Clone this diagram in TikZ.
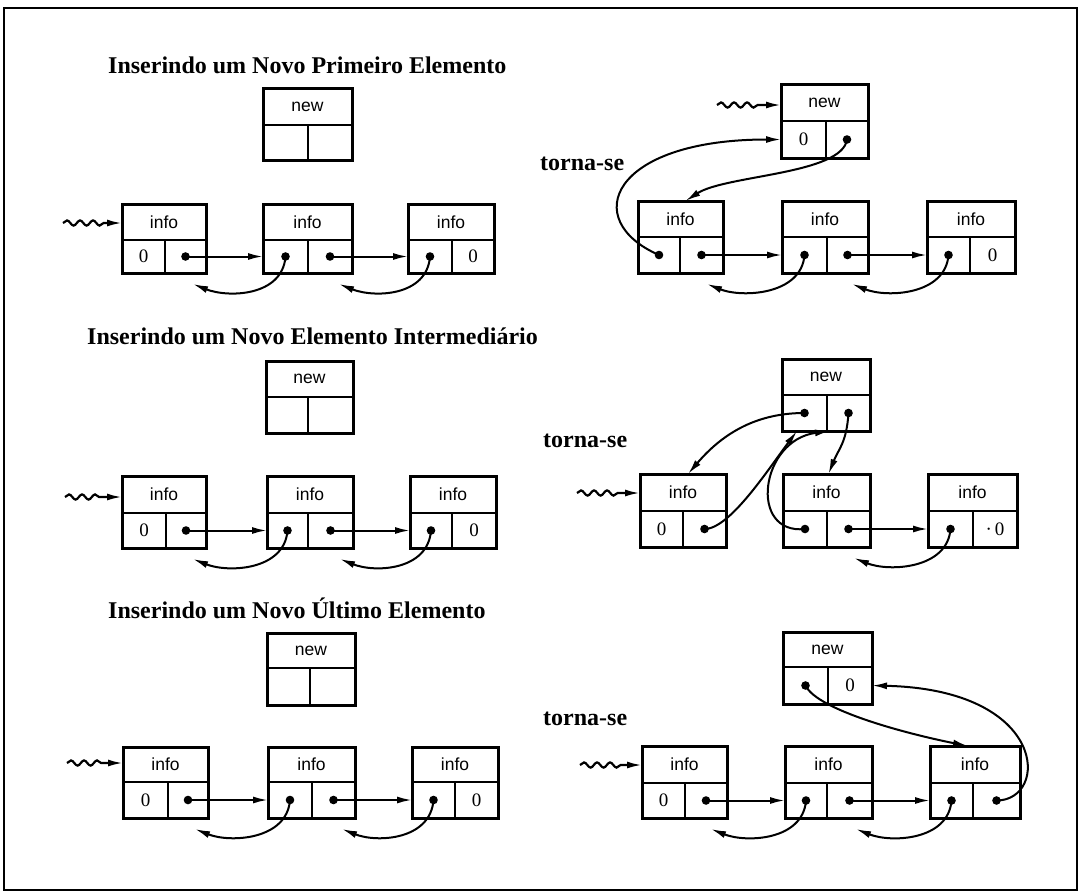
\documentclass[tikz,border=0pt]{standalone}
\usepackage{fontspec}
\setmainfont{Liberation Serif}
\newfontfamily\lsans{Liberation Sans}
\usetikzlibrary{arrows.meta,decorations.pathmorphing,calc}

\tikzset{
  cellbox/.style={draw, line width=3pt, inner sep=0pt, outer sep=0pt},
  divline/.style={line width=2.4pt},
  lbl/.style={font=\lsans\fontsize{17.5}{17.5}\selectfont, inner sep=0pt},
  zero/.style={font=\fontsize{19}{19}\selectfont, inner sep=0pt},
  ttl/.style={font=\bfseries\fontsize{24}{24}\selectfont, inner sep=0pt, anchor=base west},
  arr/.style={line width=2pt, -{Latex[length=15pt,width=7pt]}},
  wavy/.style={line width=2.2pt, decorate, decoration={snake, amplitude=2.6pt, segment length=13pt, post length=17pt}, -{Latex[length=15pt,width=7pt]}},
  ptr/.style={fill=black},
}

% name, x1, y1, x2, y2, ydiv, xdiv, label
\newcommand\llcell[8]{%
  \node[cellbox, minimum width={#4-#2}, minimum height={#5-#3}] (#1) at ({(#2+#4)/2},{(#3+#5)/2}) {};
  \draw[divline] (#2,#6) -- (#4,#6) (#7,#6) -- (#7,#5);
  \node[lbl] (#1-t) at ({(#2+#4)/2},{(#3+#6)/2}) {#8};
  \coordinate (#1-l) at ({(#2+#7)/2},{(#6+#5)/2});
  \coordinate (#1-r) at ({(#7+#4)/2},{(#6+#5)/2});
}
\newcommand\pdot[1]{\fill[ptr] (#1) circle[radius=4.3pt];}

\begin{document}
\begin{tikzpicture}[x=1pt,y=-1pt]
\useasboundingbox (0,0) rectangle (1082,892);
\draw[line width=2.8pt] (4,8) rectangle (1077,890);

% ---------------- Panel A ----------------
\node[ttl] (tA) at (108,73) {Inserindo um Novo Primeiro Elemento};
\llcell{nA}{263}{88}{352}{160}{125}{308}{new}
\llcell{A1}{122}{204}{206}{273}{240}{165}{info}
\llcell{A2}{263}{204}{352}{273}{240}{308}{info}
\llcell{A3}{408}{204}{494}{273}{240}{452}{info}
\node[zero] at (A1-l) {0};
\node[zero] at (A3-r) {0};
\pdot{A1-r}\pdot{A2-l}\pdot{A2-r}\pdot{A3-l}
\coordinate (wA) at (63,223);
\draw[wavy] (wA) -- (wA -| A1.west);
\draw[arr] (A1-r) -- (A1-r -| A2.west);
\draw[arr] (A2-r) -- (A2-r -| A3.west);
\draw[arr] (A2-l) .. controls +(-3,40) and +(35,14) .. ([shift={(-13,11)}]A1.south east);
\draw[arr] (A3-l) .. controls +(-3,40) and +(35,14) .. ([shift={(-13,11)}]A2.south east);

% ---------------- Panel B ----------------
\node[ttl] (tB) at (540,170) {torna-se};
\llcell{nB}{781}{84}{868}{158}{121}{826}{new}
\llcell{B1}{638}{201}{723}{273}{237}{680}{info}
\llcell{B2}{782}{201}{868}{273}{237}{827}{info}
\llcell{B3}{927}{201}{1015}{273}{237}{970}{info}
\node[zero] at (nB-l) {0};
\node[zero] at (B3-r) {0};
\pdot{nB-r}\pdot{B1-l}\pdot{B1-r}\pdot{B2-l}\pdot{B2-r}\pdot{B3-l}
\coordinate (wB) at (717,105);
\draw[wavy] (wB) -- (wB -| nB.west);
\draw[arr] (B1-l) .. controls +(-80,-35) and +(-170,0) .. (nB-l -| nB.west);
\draw[arr] (nB-r) .. controls +(-5,35) and +(40,-26) .. ([xshift=5pt]B1.north);
\draw[arr] (B1-r) -- (B1-r -| B2.west);
\draw[arr] (B2-r) -- (B2-r -| B3.west);
\draw[arr] (B2-l) .. controls +(-3,40) and +(35,14) .. ([shift={(-16,11)}]B1.south east);
\draw[arr] (B3-l) .. controls +(-3,40) and +(35,14) .. ([shift={(-16,11)}]B2.south east);

% ---------------- Panel C ----------------
\node[ttl] (tC) at (87,344) {Inserindo um Novo Elemento Intermediário};
\llcell{nC}{266}{361}{353}{433}{397}{308}{new}
\llcell{C1}{122}{476}{206}{548}{513}{166}{info}
\llcell{C2}{267}{476}{353}{548}{513}{308}{info}
\llcell{C3}{410}{476}{496}{548}{513}{452}{info}
\node[zero] at (C1-l) {0};
\node[zero] at (C3-r) {0};
\pdot{C1-r}\pdot{C2-l}\pdot{C2-r}\pdot{C3-l}
\coordinate (wC) at (65,497);
\draw[wavy] (wC) -- (wC -| C1.west);
\draw[arr] (C1-r) -- (C1-r -| C2.west);
\draw[arr] (C2-r) -- (C2-r -| C3.west);
\draw[arr] (C2-l) .. controls +(-3,40) and +(35,14) .. ([shift={(-13,11)}]C1.south east);
\draw[arr] (C3-l) .. controls +(-3,40) and +(35,14) .. ([shift={(-13,11)}]C2.south east);

% ---------------- Panel D ----------------
\node[ttl] (tD) at (543,447) {torna-se};
\llcell{nD}{782}{359}{870}{431}{395}{827}{new}
\llcell{D1}{640}{474}{726}{547}{511}{683}{info}
\llcell{D2}{783}{474}{870}{547}{511}{827}{info}
\llcell{D3}{928}{474}{1017}{547}{511}{973}{info}
\node[zero] at (D1-l) {0};
\node[zero] at (D3-r) {·\,0};
\pdot{nD-l}\pdot{nD-r}\pdot{D1-r}\pdot{D2-l}\pdot{D2-r}\pdot{D3-l}
\coordinate (wD) at (577,493);
\draw[wavy] (wD) -- (wD -| D1.west);
\draw[arr] (nD-l) .. controls +(-40,0) and +(40,-47) .. ([xshift=5pt]D1.north);
\draw[arr] (D1-r) .. controls +(25,0) and +(-30,40) .. ([xshift=-29pt]nD.south);
\draw[arr] (D2-l) .. controls +(-57,6) and +(-70,9) .. ([xshift=4pt]nD.south);
\draw[arr] (nD-r) .. controls +(-2,30) and +(10,-25) .. ([xshift=2pt]D2.north);
\draw[arr] (D2-r) -- (D2-r -| D3.west);
\draw[arr] (D3-l) .. controls +(-3,40) and +(35,14) .. ([shift={(-16,11)}]D2.south east);

% ---------------- Panel E ----------------
\node[ttl] (tE) at (108,618) {Inserindo um Novo Último Elemento};
\llcell{nE}{267}{633}{355}{705}{668}{310}{new}
\llcell{E1}{123}{747}{208}{818}{782}{168}{info}
\llcell{E2}{268}{747}{355}{818}{782}{312}{info}
\llcell{E3}{412}{747}{498}{818}{782}{455}{info}
\node[zero] at (E1-l) {0};
\node[zero] at (E3-r) {0};
\pdot{E1-r}\pdot{E2-l}\pdot{E2-r}\pdot{E3-l}
\coordinate (wE) at (67,763);
\draw[wavy] (wE) -- (wE -| E1.west);
\draw[arr] (E1-r) -- (E1-r -| E2.west);
\draw[arr] (E2-r) -- (E2-r -| E3.west);
\draw[arr] (E2-l) .. controls +(-3,40) and +(35,14) .. ([shift={(-13,11)}]E1.south east);
\draw[arr] (E3-l) .. controls +(-3,40) and +(35,14) .. ([shift={(-13,11)}]E2.south east);

% ---------------- Panel F ----------------
\node[ttl] (tF) at (543,725) {torna-se};
\llcell{nF}{783}{632}{872}{704}{667}{828}{new}
\llcell{F1}{642}{746}{727}{818}{783}{685}{info}
\llcell{F2}{785}{746}{872}{818}{783}{827}{info}
\llcell{F3}{930}{746}{1020}{818}{783}{973}{info}
\node[zero] at (nF-r) {0};
\node[zero] at (F1-l) {0};
\pdot{nF-l}\pdot{F1-r}\pdot{F2-l}\pdot{F2-r}\pdot{F3-l}\pdot{F3-r}
\coordinate (wF) at (580,765);
\draw[wavy] (wF) -- (wF -| F1.west);
\draw[arr] (F1-r) -- (F1-r -| F2.west);
\draw[arr] (F2-r) -- (F2-r -| F3.west);
\draw[arr] (F2-l) .. controls +(-3,40) and +(35,14) .. ([shift={(-16,11)}]F1.south east);
\draw[arr] (F3-l) .. controls +(-3,40) and +(35,14) .. ([shift={(-16,11)}]F2.south east);
\draw[arr] (nF-l) .. controls +(12,25) and +(-60,-12) .. ([xshift=-7pt]F3.north);
\draw[arr] (F3-r) .. controls +(53,0) and +(177,4) .. (nF-r -| nF.east);
\end{tikzpicture}
\end{document}
